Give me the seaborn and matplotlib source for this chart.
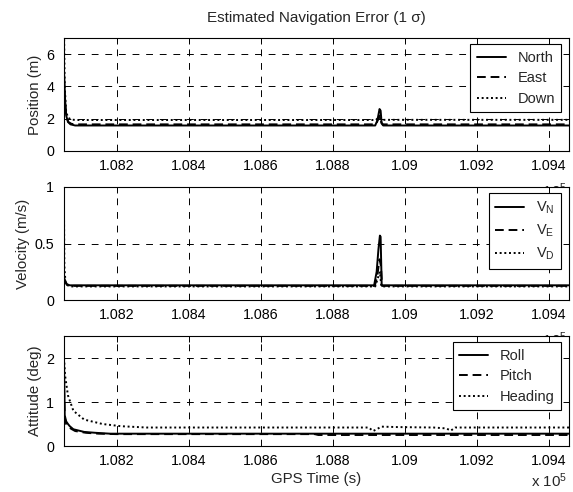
import matplotlib
matplotlib.use("Agg")
import matplotlib.pyplot as plt
from matplotlib.ticker import FixedLocator, FuncFormatter
import seaborn as sns

# ---- 1-sigma navigation error, GPS time (s) breakpoints and values ----
# Position (m)
north_t = [108054, 108057, 108060, 108065, 108072, 108085, 108918, 108924, 108930, 108933, 108936, 108940, 109456]
north_v = [5.0, 3.2, 2.2, 1.8, 1.65, 1.58, 1.58, 1.9, 2.6, 2.5, 1.7, 1.58, 1.58]
east_t = [108054, 108057, 108061, 108066, 108075, 108090, 108920, 108927, 108931, 108935, 108940, 109456]
east_v = [4.5, 2.9, 2.1, 1.8, 1.68, 1.65, 1.65, 2.0, 2.2, 1.75, 1.65, 1.65]
down_t = [108054, 108056, 108060, 108066, 108075, 108090, 108920, 108928, 108934, 108940, 109456]
down_v = [7.5, 4.0, 2.4, 2.05, 1.94, 1.92, 1.92, 2.1, 2.0, 1.93, 1.93]

# Velocity (m/s)
vn_t = [108054, 108057, 108062, 108070, 108915, 108922, 108927, 108931, 108933, 108936, 109456]
vn_v = [0.2, 0.17, 0.14, 0.13, 0.13, 0.25, 0.45, 0.57, 0.56, 0.13, 0.13]
ve_t = [108054, 108057, 108062, 108070, 108917, 108924, 108930, 108934, 108937, 109456]
ve_v = [0.19, 0.16, 0.135, 0.125, 0.125, 0.22, 0.36, 0.3, 0.125, 0.125]
vd_t = [108054, 108055, 108058, 108064, 108072, 108918, 108926, 108931, 108935, 109456]
vd_v = [0.75, 0.3, 0.16, 0.13, 0.12, 0.12, 0.2, 0.25, 0.12, 0.12]

# Attitude (deg)
roll_t = [108054, 108056, 108060, 108065, 108070, 108080, 108110, 108141, 108182, 109456]
roll_v = [2.0, 0.7, 0.56, 0.5, 0.45, 0.38, 0.32, 0.3, 0.28, 0.28]
pitch_t = [108054, 108056, 108060, 108066, 108074, 108085, 108115, 108150, 108200, 108750, 108760, 109456]
pitch_v = [1.3, 0.65, 0.5, 0.44, 0.39, 0.34, 0.3, 0.28, 0.27, 0.27, 0.25, 0.25]
heading_t = [108054, 108057, 108065, 108080, 108110, 108161, 108212, 108283, 108900, 108912, 108922, 108935,
             108980, 109080, 109115, 109128, 109140, 109456]
heading_v = [2.0, 1.6, 1.15, 0.8, 0.6, 0.5, 0.45, 0.42, 0.42, 0.34, 0.38, 0.44,
             0.43, 0.42, 0.4, 0.35, 0.42, 0.42]

x_range = (108054, 109456)
x_ticks = [108200, 108400, 108600, 108800, 109000, 109200, 109400]

panels = [
    dict(ylabel="Position (m)", ylim=(0, 7), yticks=[0, 2, 4, 6], exp_y=-0.265,
         series=[(north_t, north_v, "North", "-"),
                 (east_t, east_v, "East", (0, (4.5, 2.5))),
                 (down_t, down_v, "Down", (0, (1, 1.4)))]),
    dict(ylabel="Velocity (m/s)", ylim=(0, 1), yticks=[0, 0.5, 1], exp_y=-0.265,
         series=[(vn_t, vn_v, r"V$_\mathregular{N}$", "-"),
                 (ve_t, ve_v, r"V$_\mathregular{E}$", (0, (4.5, 2.5))),
                 (vd_t, vd_v, r"V$_\mathregular{D}$", (0, (1, 1.4)))]),
    dict(ylabel="Attitude (deg)", ylim=(0, 2.5), yticks=[0, 1, 2], exp_y=-0.235,
         series=[(roll_t, roll_v, "Roll", "-"),
                 (pitch_t, pitch_v, "Pitch", (0, (4.5, 2.5))),
                 (heading_t, heading_v, "Heading", (0, (1, 1.4)))]),
]

sns.set_style("white")
plt.rcParams["font.family"] = ["Liberation Sans", "DejaVu Sans"]
plt.rcParams["mathtext.fontset"] = "custom"
plt.rcParams["mathtext.rm"] = "Liberation Sans"
plt.rcParams["mathtext.it"] = "Liberation Sans"

fig = plt.figure(figsize=(5.73, 4.92), dpi=100)
W, H = 573.0, 492.0
boxes = [(38, 151), (187, 300), (336, 446)]
left_px, right_px = 64, 569

tick_fs = 10.3
label_fs = 10.8
leg_fs = 10.5
for p, (top, bot) in zip(panels, boxes):
    ax = fig.add_axes([left_px / W, 1 - bot / H, (right_px - left_px) / W, (bot - top) / H])
    ax.set_facecolor("white")
    for t, v, lab, ls in p["series"]:
        sns.lineplot(x=t, y=v, ax=ax, color="k", lw=1.4, linestyle=ls,
                     label=lab, estimator=None, sort=False)
    ax.set_xlim(*x_range)
    ax.set_ylim(*p["ylim"])
    ax.xaxis.set_major_locator(FixedLocator(x_ticks))
    ax.xaxis.set_major_formatter(FuncFormatter(lambda val, pos: f"{val / 1e5:g}"))
    ax.yaxis.set_major_locator(FixedLocator(p["yticks"]))
    ax.yaxis.set_major_formatter(FuncFormatter(lambda val, pos: f"{val:g}"))
    ax.grid(True, color="k", lw=0.7, linestyle=(0, (7, 7)))
    ax.set_axisbelow(True)
    ax.tick_params(direction="in", top=True, right=True, length=4, width=0.7,
                   labelsize=tick_fs, colors="k")
    ax.tick_params(axis="x", pad=6)
    ax.tick_params(axis="y", pad=7)
    for s in ax.spines.values():
        s.set_visible(True)
        s.set_color("k")
        s.set_linewidth(0.8)
    ax.set_ylabel(p["ylabel"], fontsize=label_fs, labelpad=3)
    leg = ax.legend(loc="upper right", bbox_to_anchor=(0.985, 0.945), borderaxespad=0,
                    fontsize=leg_fs, frameon=True, fancybox=False, edgecolor="k",
                    framealpha=1, handlelength=2.0, handletextpad=0.8,
                    borderpad=0.45, labelspacing=0.45)
    leg.get_frame().set_linewidth(0.8)
    # exponent label of the time axis
    ax.text(0.996, p["exp_y"], r"x 10$^\mathregular{5}$", transform=ax.transAxes,
            ha="right", va="top", fontsize=label_fs, clip_on=False)
    last_ax = ax

last_ax.set_xlabel("GPS Time (s)", fontsize=label_fs, labelpad=3)
fig.text(316 / W, 1 - 18 / H, "Estimated Navigation Error (1 σ)", ha="center", va="center",
         fontsize=11)

fig.savefig("out.png", dpi=100, facecolor="white")
